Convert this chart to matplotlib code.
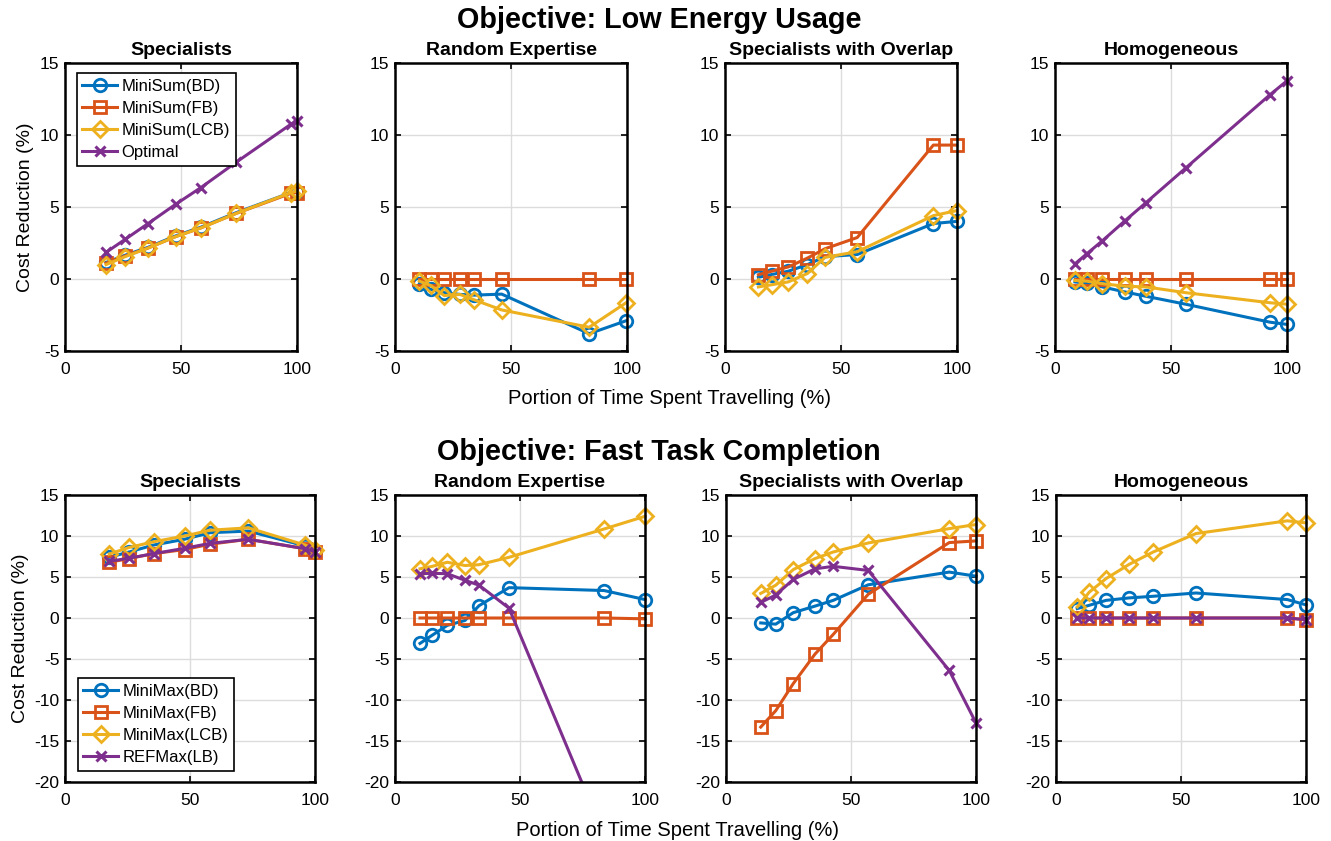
import numpy as np
import matplotlib
matplotlib.use("Agg")
import matplotlib.pyplot as plt

plt.rcParams["font.family"] = ["Liberation Sans", "DejaVu Sans"]
plt.rcParams["axes.unicode_minus"] = False

# colours (MATLAB defaults)
C_BD = "#0072BD"
C_FB = "#D95319"
C_LCB = "#EDB120"
C_OPT = "#7E2F8E"

panel_titles = ["Specialists", "Random Expertise", "Specialists with Overlap", "Homogeneous"]

# ---- Objective: Low Energy Usage ----
top_x = [
    [17.7, 25.9, 35.8, 47.8, 58.6, 73.7, 97.4, 100],
    [10.5, 15.4, 21.2, 28.0, 34.2, 46.0, 83.7, 99.6],
    [14.4, 20.1, 27.3, 35.5, 43.1, 57.0, 89.8, 99.9],
    [8.6, 13.7, 20.4, 30.2, 39.2, 56.3, 92.7, 99.9],
]
top_bd = [
    [1.15, 1.65, 2.2, 3.0, 3.6, 4.6, 6.0, 6.05],
    [-0.33, -0.72, -0.95, -1.07, -1.12, -1.05, -3.8, -2.9],
    [0.12, 0.31, 0.54, 1.0, 1.55, 1.7, 3.85, 4.0],
    [-0.2, -0.3, -0.55, -0.9, -1.2, -1.75, -3.0, -3.15],
]
top_fb = [
    [1.1, 1.6, 2.15, 2.95, 3.55, 4.55, 5.95, 6.0],
    [0, 0, 0, 0, 0, 0, 0, 0],
    [0.3, 0.54, 0.84, 1.45, 2.1, 2.88, 9.3, 9.3],
    [0, 0, 0, 0, 0, 0, 0, 0],
]
top_lcb = [
    [1.0, 1.55, 2.15, 2.95, 3.55, 4.55, 6.0, 6.1],
    [-0.15, -0.45, -1.15, -1.07, -1.45, -2.15, -3.35, -1.65],
    [-0.55, -0.4, -0.2, 0.38, 1.5, 1.9, 4.4, 4.75],
    [-0.1, -0.15, -0.33, -0.5, -0.55, -0.95, -1.65, -1.75],
]
top_opt = [
    [1.85, 2.75, 3.85, 5.2, 6.35, 8.1, 10.75, 10.95],
    None,
    None,
    [1.05, 1.75, 2.65, 4.05, 5.3, 7.7, 12.8, 13.75],
]

# ---- Objective: Fast Task Completion ----
bot_x = [
    [17.7, 25.6, 35.5, 47.8, 58.0, 73.3, 96.0, 100],
    [10.0, 14.9, 20.9, 28.0, 33.6, 45.6, 83.6, 100],
    [13.9, 19.9, 26.9, 35.6, 42.9, 56.9, 89.3, 100],
    [8.5, 13.3, 20.0, 29.3, 38.9, 56.0, 92.5, 100],
]
bot_bd = [
    [7.4, 8.05, 8.9, 9.6, 10.4, 10.6, 8.8, 8.2],
    [-3.1, -2.1, -0.9, -0.3, 1.5, 3.7, 3.35, 2.25],
    [-0.6, -0.75, 0.65, 1.45, 2.15, 4.05, 5.6, 5.1],
    [1.15, 1.55, 2.15, 2.45, 2.65, 3.05, 2.25, 1.6],
]
bot_fb = [
    [6.8, 7.25, 7.85, 8.35, 9.0, 9.6, 8.45, 8.0],
    [0, 0, 0, 0, 0, 0, 0, -0.1],
    [-13.3, -11.3, -8.0, -4.4, -2.0, 2.9, 9.2, 9.4],
    [0, 0, 0, 0, 0, 0, 0, -0.2],
]
bot_lcb = [
    [7.8, 8.6, 9.3, 10.0, 10.7, 11.0, 8.9, 8.3],
    [6.0, 6.3, 6.8, 6.4, 6.5, 7.4, 10.85, 12.4],
    [3.0, 4.0, 5.9, 7.25, 8.05, 9.15, 10.9, 11.4],
    [1.35, 3.15, 4.8, 6.55, 8.05, 10.3, 11.85, 11.6],
]
bot_ref = [
    [6.9, 7.3, 7.85, 8.5, 9.1, 9.6, 8.45, 8.1],
    [5.4, 5.45, 5.4, 4.6, 4.0, 1.2, -26.5, -30.0],
    [1.9, 2.8, 4.7, 6.0, 6.3, 5.8, -6.4, -12.8],
    [0, 0, 0, 0, 0, 0, 0, -0.2],
]

W, H = 1331, 841
fig = plt.figure(figsize=(W / 100, H / 100), dpi=100)


def px_axes(x0, y0, x1, y1):
    return fig.add_axes([x0 / W, 1 - y1 / H, (x1 - x0) / W, (y1 - y0) / H])


line_kw = dict(lw=2.2, markersize=9, markeredgewidth=2.0, markerfacecolor="none")
dia_kw = {**line_kw, "markersize": 8.5}
x_kw = dict(lw=2.2, markersize=7, markeredgewidth=2.2)


def style(ax, ylim, yticks):
    ax.set_xlim(0, 100)
    ax.set_ylim(*ylim)
    ax.set_xticks([0, 50, 100])
    ax.set_yticks(yticks)
    ax.grid(True, color="#dcdcdc", lw=1.0)
    ax.set_axisbelow(True)
    ax.tick_params(direction="in", top=True, right=True, labelsize=12.5,
                   length=4, width=1.2)
    ax.tick_params(axis="x", pad=8)
    ax.tick_params(axis="y", pad=4)
    for s in ax.spines.values():
        s.set_linewidth(1.8)
        s.set_zorder(5)


def legend(ax, loc, anchor):
    leg = ax.legend(loc=loc, fontsize=12, frameon=True, fancybox=False,
                    edgecolor="black", handlelength=2.1, borderpad=0.35,
                    labelspacing=0.42, handletextpad=0.25, borderaxespad=0,
                    bbox_to_anchor=anchor, framealpha=1)
    leg.get_frame().set_linewidth(1.2)


top_left = [65, 395, 725, 1055]
for i in range(4):
    ax = px_axes(top_left[i], 63, top_left[i] + 232, 351)
    x = top_x[i]
    ax.plot(x, top_bd[i], "-o", color=C_BD, label="MiniSum(BD)", clip_on=False, **line_kw)
    ax.plot(x, top_fb[i], "-s", color=C_FB, label="MiniSum(FB)", clip_on=False, **line_kw)
    ax.plot(x, top_lcb[i], "-D", color=C_LCB, label="MiniSum(LCB)", clip_on=False, **dia_kw)
    if top_opt[i] is not None:
        ax.plot(x, top_opt[i], "-x", color=C_OPT, label="Optimal", clip_on=False, **x_kw)
    style(ax, (-5, 15), [-5, 0, 5, 10, 15])
    ax.set_title(panel_titles[i], fontsize=14, fontweight="bold", pad=6)
    if i == 0:
        ax.set_ylabel("Cost Reduction (%)", fontsize=14)
        legend(ax, "upper left", (0.05, 0.965))

bot_left = [65, 395, 726, 1056]
for i in range(4):
    ax = px_axes(bot_left[i], 495, bot_left[i] + 250, 782)
    x = bot_x[i]
    # the falling REFMax line in "Random Expertise" leaves the axes, keep it clipped
    clip = (i == 1)
    ax.plot(x, bot_bd[i], "-o", color=C_BD, label="MiniMax(BD)", clip_on=False, **line_kw)
    ax.plot(x, bot_fb[i], "-s", color=C_FB, label="MiniMax(FB)", clip_on=False, **line_kw)
    ax.plot(x, bot_lcb[i], "-D", color=C_LCB, label="MiniMax(LCB)", clip_on=False, **dia_kw)
    ax.plot(x, bot_ref[i], "-x", color=C_OPT, label="REFMax(LB)", clip_on=clip, **x_kw)
    style(ax, (-20, 15), [-20, -15, -10, -5, 0, 5, 10, 15])
    ax.set_title(panel_titles[i], fontsize=14, fontweight="bold", pad=6)
    if i == 0:
        ax.set_ylabel("Cost Reduction (%)", fontsize=14)
        legend(ax, "lower left", (0.05, 0.04))

fig.text(659 / W, 1 - 20 / H, "Objective: Low Energy Usage", ha="center", va="center",
         fontsize=20.7, fontweight="bold")
fig.text(659 / W, 1 - 452 / H, "Objective: Fast Task Completion", ha="center", va="center",
         fontsize=20.7, fontweight="bold")
fig.text(669 / W, 1 - 398 / H, "Portion of Time Spent Travelling (%)", ha="center",
         va="center", fontsize=14.5)
fig.text(678 / W, 1 - 830 / H, "Portion of Time Spent Travelling (%)", ha="center",
         va="center", fontsize=14.5)

fig.savefig("out.png", dpi=100)
